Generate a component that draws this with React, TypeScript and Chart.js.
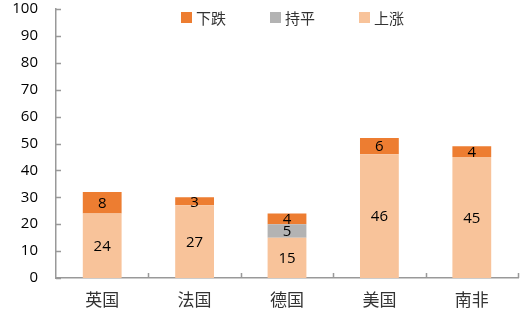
import React, { useEffect, useRef } from "react";
import { Chart, registerables } from "chart.js";

Chart.register(...registerables);

const categories = ["英国", "法国", "德国", "美国", "南非"];
const upValues = [24, 27, 15, 46, 45];
const flatValues = [0, 0, 5, 0, 0];
const downValues = [8, 3, 4, 6, 4];
const seriesNames = ["上涨", "持平", "下跌"];
const seriesColors = ["#F8C39A", "#B3B3B3", "#ED7D31"];
const legendOrder = [2, 1, 0];
const yMin = 0;
const yMax = 100;
const yStep = 10;

const NUM_FONT = "'Open Sans', 'Liberation Sans', sans-serif";
const CJK_FONT = "'Noto Sans CJK SC', sans-serif";
const AXIS_COLOR = "#999999";

const innerTicksPlugin = {
  id: "innerTicks",
  afterDraw(chart: any) {
    const ctx = chart.ctx;
    const area = chart.chartArea;
    const y = chart.scales.y;
    const x = chart.scales.x;
    ctx.save();
    ctx.strokeStyle = AXIS_COLOR;
    ctx.lineWidth = 1.5;
    ctx.beginPath();
    for (let v = yMin; v <= yMax; v += yStep) {
      const py = Math.round(y.getPixelForValue(v)) + 0.5;
      ctx.moveTo(area.left, py);
      ctx.lineTo(area.left + 5, py);
    }
    for (let i = 0; i < categories.length; i++) {
      const px =
        i < categories.length - 1
          ? (x.getPixelForValue(i) + x.getPixelForValue(i + 1)) / 2
          : area.right;
      ctx.moveTo(Math.round(px) + 0.5, area.bottom);
      ctx.lineTo(Math.round(px) + 0.5, area.bottom - 5);
    }
    ctx.stroke();
    ctx.restore();
  },
};

const valueLabelsPlugin = {
  id: "valueLabels",
  afterDatasetsDraw(chart: any) {
    const ctx = chart.ctx;
    ctx.save();
    ctx.font = `15px ${NUM_FONT}`;
    ctx.fillStyle = "#000000";
    ctx.textAlign = "center";
    ctx.textBaseline = "middle";
    chart.data.datasets.forEach((ds: any, di: number) => {
      const meta = chart.getDatasetMeta(di);
      meta.data.forEach((bar: any, i: number) => {
        const v = ds.data[i];
        if (!v) return;
        ctx.fillText(String(v), bar.x, (bar.y + bar.base) / 2 + 1);
      });
    });
    ctx.restore();
  },
};

const legendPlugin = {
  id: "customLegend",
  afterDraw(chart: any) {
    const ctx = chart.ctx;
    ctx.save();
    ctx.font = `15px ${CJK_FONT}`;
    ctx.textBaseline = "middle";
    let x = 181;
    const boxTop = 12;
    const box = 11;
    legendOrder.forEach((idx) => {
      ctx.fillStyle = seriesColors[idx];
      ctx.fillRect(x, boxTop, box, box);
      ctx.fillStyle = "#333333";
      const tx = x + box + 4;
      ctx.fillText(seriesNames[idx], tx, boxTop + box / 2 + 0.5);
      const w = ctx.measureText(seriesNames[idx]).width;
      x = tx + w + 44;
    });
    ctx.restore();
  },
};

export default function App() {
  const ref = useRef<HTMLCanvasElement>(null);
  useEffect(() => {
    document.body.style.margin = "0";
    const values = [upValues, flatValues, downValues];
    const chart = new Chart(ref.current!, {
      type: "bar",
      data: {
        labels: categories,
        datasets: seriesNames.map((name, i) => ({
          label: name,
          data: values[i],
          backgroundColor: seriesColors[i],
          borderWidth: 0,
          categoryPercentage: 1,
          barPercentage: 0.42,
        })),
      },
      options: {
        animation: false,
        responsive: false,
        maintainAspectRatio: false,
        layout: { padding: { top: 9, right: 8, left: 0, bottom: 0 } },
        plugins: { legend: { display: false }, tooltip: { enabled: false } },
        scales: {
          x: {
            stacked: true,
            grid: { display: false, drawTicks: false },
            border: { display: true, color: AXIS_COLOR, width: 1.5 },
            ticks: {
              font: { family: CJK_FONT, size: 17 },
              color: "#333333",
              padding: 11,
            },
            afterFit(scale: any) {
              scale.height = 34;
            },
          },
          y: {
            stacked: true,
            min: yMin,
            max: yMax,
            grid: { display: false, drawTicks: false },
            border: { display: true, color: AXIS_COLOR, width: 1.5 },
            ticks: {
              stepSize: yStep,
              font: { family: NUM_FONT, size: 15 },
              color: "#000000",
              padding: 18,
            },
            afterFit(scale: any) {
              scale.width = 56;
              scale.paddingTop = 0;
              scale.paddingBottom = 0;
            },
          },
        },
      },
      plugins: [innerTicksPlugin, valueLabelsPlugin, legendPlugin],
    });
    return () => chart.destroy();
  }, []);
  return (
    <div style={{ width: 526, height: 312 }}>
      <canvas ref={ref} width={526} height={312} style={{ display: "block" }} />
    </div>
  );
}
